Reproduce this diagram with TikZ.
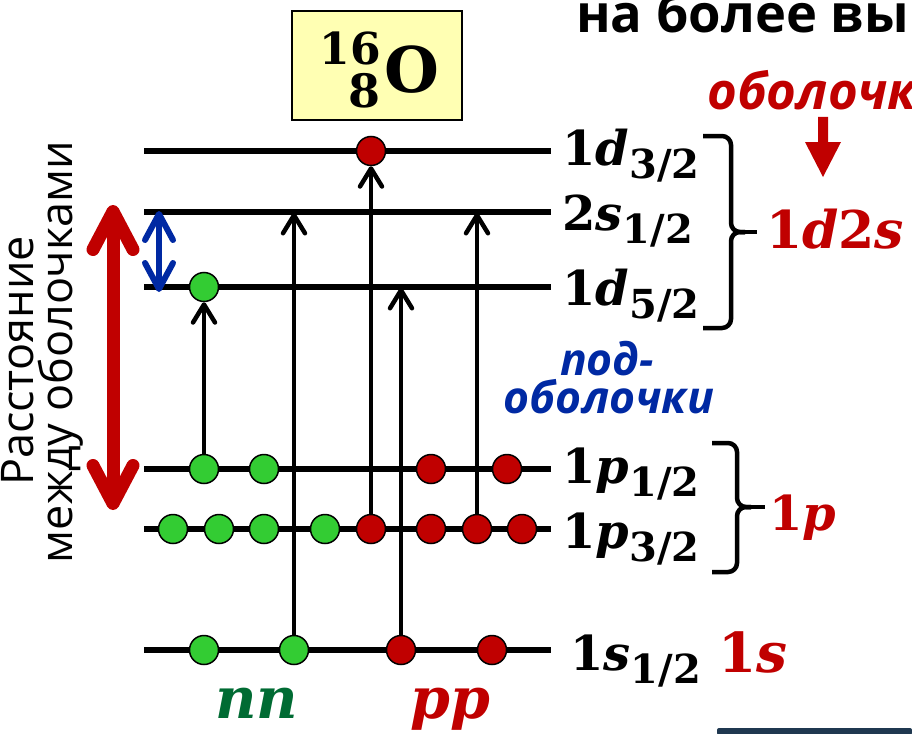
\documentclass[tikz,border=0pt]{standalone}
\usepackage{fontspec}
\newfontfamily\osans{Open Sans}
\newfontfamily\serifb{DejaVu Serif}
\usetikzlibrary{arrows.meta}

\definecolor{shellred}{RGB}{192,0,0}
\definecolor{subblue}{RGB}{0,41,163}
\definecolor{ngreen}{RGB}{51,204,51}
\definecolor{nndark}{RGB}{0,107,51}
\definecolor{boxyellow}{RGB}{255,255,179}
\definecolor{barnavy}{RGB}{31,56,80}

\pgfdeclarelayer{background}
\pgfsetlayers{background,main}

% level name: bold digit, bold italic letter, lowered bold fraction
\newcommand{\lvlname}[3]{{\bfseries #1\textit{#2}}\raisebox{-13pt}{\fontsize{40}{40}\selectfont\bfseries #3}}

\tikzset{
  level/.style={line width=6.5pt},
  jump/.style={line width=4.5pt, -{Straight Barb[length=18pt,width=22pt,round]}},
  neutron/.style={circle, draw=black, line width=1.5pt, fill=ngreen, minimum size=29pt, inner sep=0pt},
  proton/.style={circle, draw=black, line width=1.5pt, fill=shellred, minimum size=29pt, inner sep=0pt},
  lvllabel/.style={anchor=base west, inner sep=0pt, font=\serifb\fontsize{48}{48}\selectfont},
  shelllabel/.style={anchor=base west, inner sep=0pt, text=shellred},
  brace/.style={line width=4.5pt, rounded corners=9pt},
}

\begin{document}
\begin{tikzpicture}[x=1pt,y=-1pt]
\useasboundingbox (0,0) rectangle (912,733);

% ---- nucleus box
\draw[line width=1.5pt, fill=boxyellow] (292,11) rectangle (462,120);
\node[anchor=base east, inner sep=0pt, font=\serifb\fontsize{44}{44}\selectfont\bfseries] (massnum) at (381,65) {16};
\node[anchor=base east, inner sep=0pt, font=\serifb\fontsize{46}{46}\selectfont\bfseries] (chargenum) at (381,107) {8};
\node[anchor=base west, inner sep=0pt, font=\serifb\fontsize{63}{63}\selectfont\bfseries] (elem) at (384,93) {O};

% ---- level lines
\begin{pgfonlayer}{background}
\foreach \nm/\yy in {d32/151, s12/212, d52/287, p12/469, p32/529, s1/650}{
  \coordinate (\nm L) at (144,\yy);
  \coordinate (\nm R) at (551,\yy);
  \draw[level] (\nm L) -- (\nm R);
}
\end{pgfonlayer}

% ---- level names
\node[lvllabel] (ld32) at (562,165) {\lvlname{1}{d}{3/2}};
\node[lvllabel] (ls12) at (562,230) {\lvlname{2}{s}{1/2}};
\node[lvllabel] (ld52) at (562,305) {\lvlname{1}{d}{5/2}};
\node[lvllabel] (lp12) at (562,483) {\lvlname{1}{p}{1/2}};
\node[lvllabel] (lp32) at (562,548) {\lvlname{1}{p}{3/2}};
\node[lvllabel] (ls1)  at (570,670) {\lvlname{1}{s}{1/2}};

% ---- nucleons
\node[neutron] (nd5)  at (204,287) {};
\node[proton]  (pd3)  at (371,151) {};
\node[neutron] (n1a)  at (204,469) {};
\node[neutron] (n1b)  at (264,469) {};
\node[proton]  (p1a)  at (431,469) {};
\node[proton]  (p1b)  at (507,469) {};
\node[neutron] (n3a)  at (173,529) {};
\node[neutron] (n3b)  at (219,529) {};
\node[neutron] (n3c)  at (264,529) {};
\node[neutron] (n3d)  at (325,529) {};
\node[proton]  (p3a)  at (371,529) {};
\node[proton]  (p3b)  at (431,529) {};
\node[proton]  (p3c)  at (477,529) {};
\node[proton]  (p3d)  at (522,529) {};
\node[neutron] (nsa)  at (204,650) {};
\node[neutron] (nsb)  at (294,650) {};
\node[proton]  (psa)  at (401,650) {};
\node[proton]  (psb)  at (492,650) {};

% ---- pair jumps (under the nucleons)
\coordinate (tn2s) at (294,213);
\coordinate (tp1d) at (401,288);
\coordinate (tp2s) at (477,213);
\begin{pgfonlayer}{background}
\draw[jump] (n1a.north) -- (nd5.south);
\draw[jump] (nsb.north) -- (tn2s);
\draw[jump] (p3a.north) -- (pd3.south);
\draw[jump] (psa.north) -- (tp1d);
\draw[jump] (p3c.north) -- (tp2s);
\end{pgfonlayer}

% ---- spacing arrows
\coordinate (gapTop) at (113,205);
\coordinate (gapBot) at (113,510);
\draw[line width=13pt, shellred, {Straight Barb[length=38pt,width=40pt,round]}-{Straight Barb[length=38pt,width=40pt,round]}] (gapTop) -- (gapBot);
\coordinate (subTop) at (159,211);
\coordinate (subBot) at (159,292);
\draw[line width=6pt, subblue, {Straight Barb[length=26pt,width=28pt,round]}-{Straight Barb[length=26pt,width=28pt,round]}] (subTop) -- (subBot);

\node[rotate=90, anchor=base, inner sep=0pt, font=\osans\fontsize{45}{45}\selectfont] (gapA) at (33,361) {Расстояние};
\node[rotate=90, anchor=base, inner sep=0pt, font=\osans\fontsize{45}{45}\selectfont] (gapB) at (72,352) {между оболочками};

% ---- shell braces
\draw[brace] (703,136) -- (731,136) -- (731,232) -- (745,232);
\draw[brace] (703,328) -- (731,328) -- (731,232) -- (745,232);
\draw[line width=4.5pt] (738,232) -- (757,232);
\draw[brace] (712,443) -- (737,443) -- (737,507) -- (751,507);
\draw[brace] (712,572) -- (737,572) -- (737,507) -- (751,507);
\draw[line width=4.5pt] (744,507) -- (765,507);

\node[shelllabel, font=\serifb\fontsize{52}{52}\selectfont] (sh1d2s) at (766,248) {{\bfseries 1\textit{d}2\textit{s}}};
\node[shelllabel, font=\serifb\fontsize{48}{48}\selectfont] (sh1p) at (769,530) {{\bfseries 1\textit{p}}};
\node[shelllabel, font=\serifb\fontsize{55}{55}\selectfont] (sh1s) at (718,672) {{\bfseries 1\textit{s}}};

% ---- captions
\node[anchor=base west, inner sep=0pt, font=\osans\bfseries\fontsize{52.5}{52.5}\selectfont] (title) at (576,33) {на более вы};
\node[anchor=base west, inner sep=0pt, text=shellred, font=\osans\bfseries\itshape\fontsize{51}{51}\selectfont] (shword) at (707,110) {оболочк};
\fill[shellred] (818,117) -- (828,117) -- (828,142) -- (841,142) -- (823,177) -- (805,142) -- (818,142) -- cycle;

\node[anchor=base, inner sep=0pt, text=subblue, font=\osans\bfseries\itshape\fontsize{44.5}{44.5}\selectfont] (subA) at (607,375) {под-};
\node[anchor=base, inner sep=0pt, text=subblue, font=\osans\bfseries\itshape\fontsize{44.5}{44.5}\selectfont] (subB) at (609,413) {оболочки};

\node[anchor=base west, inner sep=0pt, text=nndark, font=\serifb\fontsize{57}{57}\selectfont\bfseries\itshape] (nn) at (215,718) {nn};
\node[anchor=base west, inner sep=0pt, text=shellred, font=\serifb\fontsize{57}{57}\selectfont\bfseries\itshape] (pp) at (410,718) {pp};

\fill[barnavy, rounded corners=2pt] (717,735) -- (717,728) -- (912,728) -- (912,735) -- cycle;
\end{tikzpicture}
\end{document}
